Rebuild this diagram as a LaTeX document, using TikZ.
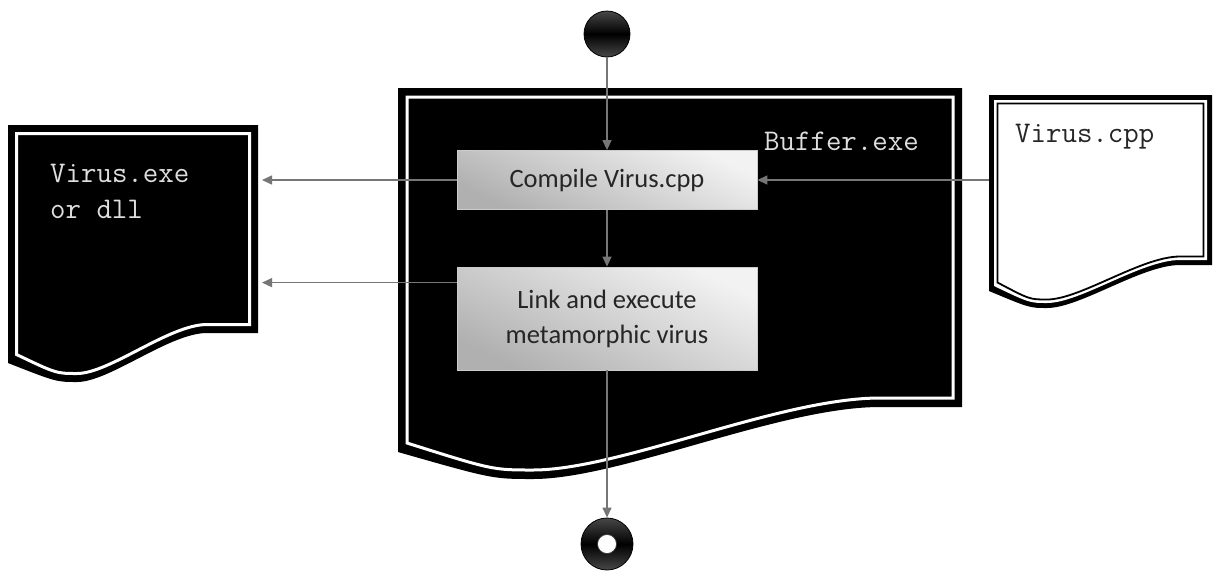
\documentclass[tikz,border=0pt]{standalone}
\usepackage{fontspec}
\setmainfont{Carlito}
\usetikzlibrary{arrows.meta,calc}

\definecolor{wire}{HTML}{767676}
\definecolor{darktext}{HTML}{262626}
\definecolor{lighttext}{HTML}{DEDEDE}

% Document outline: left, top, right, bottom-left y, trough x, trough y,
% start x of the flat right part, its y; \ins moves the outline inwards.
\def\ins{0}
\newcommand{\docpath}[8]{%
  ({#1+\ins},{#2+\ins}) -- ({#3-\ins},{#2+\ins}) -- ({#3-\ins},{#8-\ins}) -- ({#7},{#8-\ins})
  .. controls ({#7-0.29*(#7-#5)},{#8-\ins}) and ({#5+0.25*(#7-#5)},{#6-\ins}) .. ({#5},{#6-\ins})
  .. controls ({#5-0.3*(#5-#1)},{#6-\ins}) .. ({#1+\ins},{#4-\ins}) -- cycle}

\tikzset{
  conn/.style={draw=wire, line width=1.4pt, -{Triangle[length=10pt,width=9pt]}},
  procbox/.style={rectangle, minimum width=300pt, inner sep=0pt,
    draw=gray!40, line width=0.8pt, font=\fontsize{26.5}{35}\selectfont,
    text=darktext, align=center,
    top color=gray!10, bottom color=gray!62, shading angle=-25},
  codetext/.style={inner sep=0pt, anchor=base west,
    font=\ttfamily\fontsize{30}{36}\selectfont},
  terminal/.style={circle, inner sep=0pt, draw=black, line width=0.8pt,
    top color=black!72, bottom color=black!72, middle color=black}
}

\begin{document}
\begin{tikzpicture}[x=1pt,y=-1pt]
  \useasboundingbox (0,0) rectangle (1214,571);
  \fill[white] (0,0) rectangle (1214,571);

  % Buffer.exe document
  \def\ins{0}\fill[black] \docpath{398}{88}{962}{452}{533}{479}{880}{407};
  \def\ins{9}\draw[white, line width=3pt] \docpath{398}{88}{962}{452}{533}{479}{880}{407};

  % Virus.exe or dll document
  \def\ins{0}\fill[black] \docpath{8}{125}{258}{363}{77}{382}{207}{333};
  \def\ins{8.5}\draw[white, line width=3pt] \docpath{8}{125}{258}{363}{77}{382}{207}{333};

  % Virus.cpp document
  \def\ins{0}\fill[black] \docpath{989}{95}{1212}{291}{1047}{308}{1180}{265};
  \def\ins{5}\fill[white] \docpath{989}{95}{1212}{291}{1047}{308}{1180}{265};
  \def\ins{8.5}\draw[black, line width=1.8pt] \docpath{989}{95}{1212}{291}{1047}{308}{1180}{265};

  % labels of the documents
  \node[codetext, text=lighttext] (bufname) at (764,150) {Buffer.exe};
  \node[codetext, text=lighttext] (exename1) at (50,182) {Virus.exe};
  \node[codetext, text=lighttext] (exename2) at (50,218) {or dll};
  \node[codetext, text=darktext] (cppname) at (1015,142) {Virus.cpp};

  % edges of the documents where the connectors meet them
  \coordinate (exeedge) at (262,0);
  \coordinate (cppedge) at (989,0);

  % process steps
  \node[procbox, minimum height=59pt] (compile) at (607,180) {Compile Virus.cpp};
  \node[procbox, minimum height=103pt] (link) at (607,318.5) {Link and execute\\metamorphic virus};

  % start and end
  \node[terminal, minimum size=46pt] (start) at (607,34) {};
  \node[terminal, minimum size=52pt] (stop) at (607,544) {};
  \fill[white] (stop.center) circle (9.5);
  \draw[black!80, line width=0.6pt] (stop.center) circle (9.5);

  % flow
  \draw[conn] (start.south) -- (compile.north);
  \draw[conn] (compile.south) -- (link.north);
  \draw[conn] (link.south) -- (stop.north);
  \draw[conn] (compile.west) -- (compile.west -| exeedge);
  \coordinate (linkout) at ($(link.north west)+(0,16)$);
  \draw[conn] (linkout) -- (linkout -| exeedge);
  \draw[conn] (cppedge |- compile.east) -- (compile.east);
\end{tikzpicture}
\end{document}
